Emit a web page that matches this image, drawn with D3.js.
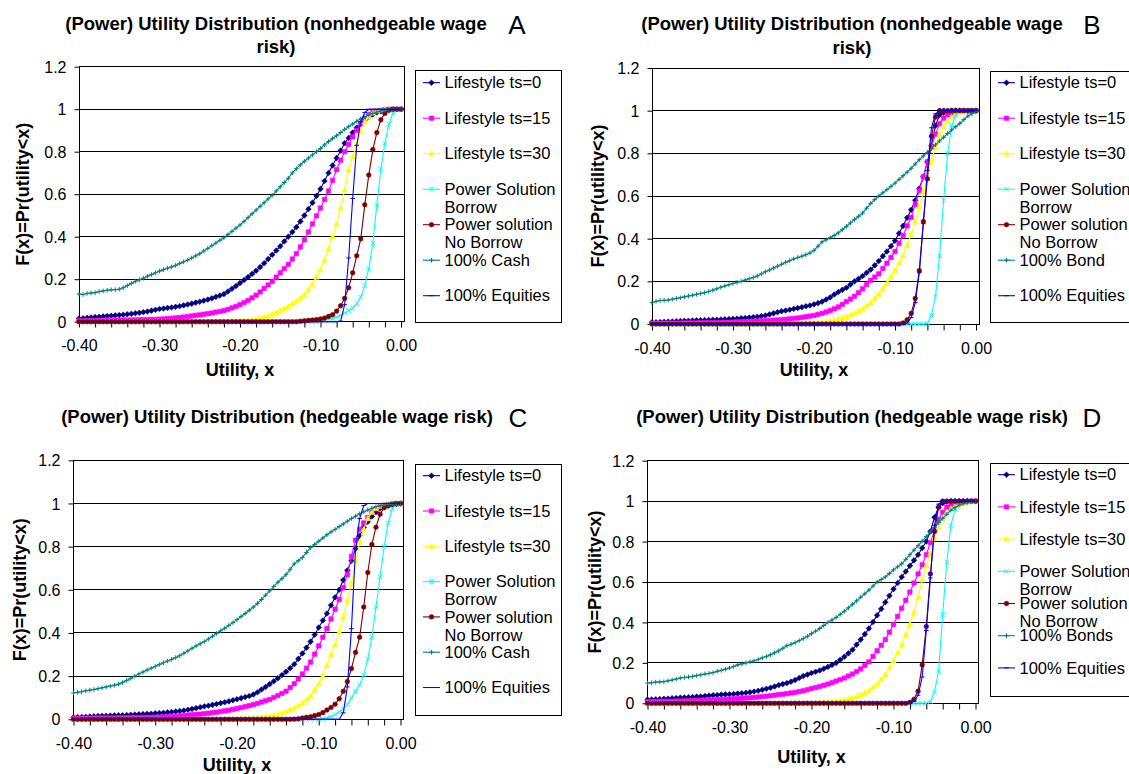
<!DOCTYPE html>
<html>
<head>
<meta charset="utf-8">
<script src="https://d3js.org/d3.v7.min.js"></script>
<style>
    body { margin: 0; background: #fff; }
    svg text { font-family: "Liberation Sans", Arial, sans-serif; fill: #000; }
</style>
</head>
<body>
<svg id="chart" width="1129" height="774"></svg>
<script>

// utility grid (x categories) shared by every series
var utilityX = [
    -0.400,-0.395,-0.390,-0.385,-0.380,-0.375,-0.370,-0.365,-0.360,-0.355,
    -0.350,-0.345,-0.340,-0.335,-0.330,-0.325,-0.320,-0.315,-0.310,-0.305,
    -0.300,-0.295,-0.290,-0.285,-0.280,-0.275,-0.270,-0.265,-0.260,-0.255,
    -0.250,-0.245,-0.240,-0.235,-0.230,-0.225,-0.220,-0.215,-0.210,-0.205,
    -0.200,-0.195,-0.190,-0.185,-0.180,-0.175,-0.170,-0.165,-0.160,-0.155,
    -0.150,-0.145,-0.140,-0.135,-0.130,-0.125,-0.120,-0.115,-0.110,-0.105,
    -0.100,-0.095,-0.090,-0.085,-0.080,-0.075,-0.070,-0.065,-0.060,-0.055,
    -0.050,-0.045,-0.040,-0.035,-0.030,-0.025,-0.020,-0.015,-0.010,-0.005,
    0.000
];

var xTickLabels = ["-0.40", "-0.30", "-0.20", "-0.10", "0.00"];
var yTicks      = [0, 0.2, 0.4, 0.6, 0.8, 1, 1.2];
var yTickLabels = ["0", "0.2", "0.4", "0.6", "0.8", "1", "1.2"];

var titleNonhedge = ["(Power) Utility Distribution (nonhedgeable wage", "risk)"];
var titleHedge    = ["(Power) Utility Distribution (hedgeable wage risk)"];

var legendBase = [["Lifestyle ts=0"], ["Lifestyle ts=15"], ["Lifestyle ts=30"],
                  ["Power Solution", "Borrow"], ["Power solution", "No Borrow"]];

// ---- panel A : nonhedgeable, cash
var aTs0 = [
    .015,.016,.018,.020,.022,.023,.025,.027,.028,.030,
    .031,.033,.035,.037,.040,.042,.045,.048,.052,.056,
    .060,.062,.065,.067,.070,.073,.077,.081,.085,.090,
    .094,.099,.104,.110,.117,.123,.130,.142,.155,.168,
    .182,.196,.210,.225,.240,.257,.275,.295,.315,.335,
    .355,.378,.400,.422,.445,.472,.500,.530,.560,.592,
    .625,.662,.700,.735,.770,.805,.840,.865,.890,.913,
    .935,.950,.965,.975,.985,.990,.995,.998,1,1,
    1];
var aTs15 = [
    .004,.004,.005,.005,.005,.006,.006,.006,.007,.007,
    .007,.008,.008,.008,.009,.009,.010,.010,.011,.011,
    .012,.013,.015,.016,.018,.020,.022,.024,.027,.030,
    .032,.035,.038,.041,.045,.048,.052,.058,.065,.072,
    .080,.090,.100,.112,.125,.140,.157,.173,.190,.210,
    .230,.250,.270,.295,.320,.352,.385,.422,.460,.498,
    .535,.575,.615,.665,.715,.760,.800,.835,.870,.900,
    .930,.955,.975,.985,.992,.995,.998,1,1,1,
    1];
var aTs30 = [
    0,0,0,0,0,0,0,0,0,0,
    0,0,0,0,0,0,0,0,0,0,
    0,0,0,0,0,0,0,0,0,0,
    0,0,0,0,0,0,.001,.001,.002,.002,
    .003,.005,.007,.010,.013,.017,.022,.028,.035,.043,
    .052,.062,.072,.084,.097,.111,.125,.150,.175,.210,
    .245,.290,.345,.400,.460,.535,.620,.715,.775,.835,
    .895,.940,.965,.982,.993,.997,1,1,1,1,
    1];
var aBorrow = [
    0,0,0,0,0,0,0,0,0,0,
    0,0,0,0,0,0,0,0,0,0,
    0,0,0,0,0,0,0,0,0,0,
    0,0,0,0,0,0,0,0,0,0,
    0,0,0,0,0,0,0,0,0,0,
    0,0,0,0,0,0,0,0,0,0,
    .004,.008,.012,.016,.022,.030,.040,.052,.065,.085,
    .115,.170,.250,.370,.550,.720,.840,.930,.980,.996,
    1];
var aNoBorrow = [
    0,0,0,0,0,0,0,0,0,0,
    0,0,0,0,0,0,0,0,0,0,
    0,0,0,0,0,0,0,0,0,0,
    0,0,0,0,0,0,0,0,0,0,
    0,0,0,0,0,0,0,0,0,0,
    0,0,0,0,0,.002,.004,.006,.008,.010,
    .013,.017,.025,.033,.050,.075,.110,.160,.230,.310,
    .390,.550,.690,.810,.890,.950,.980,.995,1,1,
    1];
var aCash = [
    .130,.128,.133,.135,.137,.142,.145,.148,.150,.151,
    .153,.160,.170,.180,.190,.197,.205,.214,.222,.230,
    .238,.245,.252,.258,.265,.274,.282,.290,.300,.310,
    .320,.333,.345,.358,.370,.383,.395,.410,.425,.440,
    .455,.472,.490,.508,.525,.543,.560,.578,.595,.615,
    .635,.655,.675,.700,.720,.738,.755,.770,.785,.800,
    .815,.832,.848,.862,.875,.890,.905,.918,.930,.943,
    .955,.965,.973,.980,.987,.992,.996,.998,1,1,
    1];
var aEquities = [
    0,0,0,0,0,0,0,0,0,0,
    0,0,0,0,0,0,0,0,0,0,
    0,0,0,0,0,0,0,0,0,0,
    0,0,0,0,0,0,0,0,0,0,
    0,0,0,0,0,0,0,0,0,0,
    0,0,0,0,0,0,0,0,0,0,
    0,0,0,0,0,.003,.080,.300,.580,.830,
    .940,.985,1,1,1,1,1,1,1,1,
    1];

// ---- panel B : nonhedgeable, bond
var bTs0 = [
    .008,.008,.009,.010,.011,.012,.013,.014,.015,.015,
    .016,.017,.018,.018,.019,.020,.020,.021,.022,.023,
    .024,.025,.027,.028,.030,.032,.034,.037,.040,.045,
    .050,.055,.060,.063,.067,.071,.075,.079,.083,.087,
    .092,.098,.105,.115,.125,.138,.150,.160,.170,.185,
    .200,.212,.225,.240,.255,.275,.295,.318,.340,.365,
    .390,.425,.460,.498,.535,.580,.635,.690,.760,.835,
    .930,.980,.990,.995,1,1,1,1,1,1,
    1];
var bTs15 = [
    .003,.003,.003,.004,.004,.004,.004,.004,.005,.005,
    .005,.005,.006,.006,.006,.007,.007,.007,.008,.008,
    .009,.010,.010,.011,.012,.013,.014,.015,.016,.017,
    .018,.019,.020,.022,.024,.026,.028,.031,.034,.037,
    .040,.045,.050,.056,.063,.071,.080,.092,.105,.117,
    .130,.147,.165,.185,.205,.220,.235,.260,.285,.312,
    .340,.378,.415,.460,.500,.560,.625,.690,.760,.830,
    .890,.940,.965,.980,.990,.994,.997,.999,1,1,
    1];
var bTs30 = [
    0,0,0,0,0,0,0,0,0,0,
    0,0,0,0,0,0,0,0,0,0,
    0,0,0,0,0,0,0,0,0,0,
    .001,.001,.002,.002,.003,.003,.003,.004,.004,.004,
    .004,.006,.008,.010,.013,.017,.022,.027,.033,.041,
    .050,.060,.070,.085,.100,.120,.140,.165,.190,.220,
    .250,.285,.320,.370,.420,.480,.550,.620,.690,.765,
    .830,.890,.925,.950,.970,.985,.993,.997,1,1,
    1];
var bBorrow = [
    0,0,0,0,0,0,0,0,0,0,
    0,0,0,0,0,0,0,0,0,0,
    0,0,0,0,0,0,0,0,0,0,
    0,0,0,0,0,0,0,0,0,0,
    0,0,0,0,0,0,0,0,0,0,
    0,0,0,0,0,0,0,0,0,0,
    0,0,0,0,0,0,0,0,.004,.040,
    .130,.320,.580,.800,.930,.980,.995,1,1,1,
    1];
var bNoBorrow = [
    0,0,0,0,0,0,0,0,0,0,
    0,0,0,0,0,0,0,0,0,0,
    0,0,0,0,0,0,0,0,0,0,
    0,0,0,0,0,0,0,0,0,0,
    0,0,0,0,0,0,0,0,0,0,
    0,0,0,0,0,0,0,0,0,0,
    0,0,.005,.020,.050,.120,.250,.480,.680,.880,
    .970,1,1,1,1,1,1,1,1,1,
    1];
var bBond = [
    .100,.106,.110,.111,.112,.116,.120,.123,.127,.131,
    .135,.139,.143,.147,.152,.158,.165,.172,.178,.184,
    .190,.195,.200,.206,.212,.218,.225,.235,.245,.253,
    .262,.271,.280,.289,.297,.305,.312,.318,.325,.333,
    .345,.365,.385,.395,.405,.415,.427,.442,.458,.474,
    .490,.505,.520,.543,.565,.583,.600,.615,.630,.645,
    .660,.678,.695,.712,.730,.750,.770,.788,.805,.822,
    .840,.858,.875,.893,.910,.925,.940,.958,.975,.986,
    .995];
var bEquities = [
    0,0,0,0,0,0,0,0,0,0,
    0,0,0,0,0,0,0,0,0,0,
    0,0,0,0,0,0,0,0,0,0,
    0,0,0,0,0,0,0,0,0,0,
    0,0,0,0,0,0,0,0,0,0,
    0,0,0,0,0,0,0,0,0,0,
    0,0,0,.005,.030,.100,.240,.470,.720,.920,
    .985,1,1,1,1,1,1,1,1,1,
    1];

// ---- panel C : hedgeable, cash
var cTs0 = [
    .009,.010,.011,.012,.013,.014,.015,.016,.016,.017,
    .018,.019,.019,.020,.021,.022,.023,.024,.025,.026,
    .028,.029,.030,.032,.034,.036,.038,.041,.044,.048,
    .052,.056,.060,.063,.067,.071,.075,.079,.083,.088,
    .093,.098,.103,.108,.115,.125,.138,.150,.163,.176,
    .190,.205,.220,.237,.255,.280,.305,.332,.360,.392,
    .425,.458,.490,.528,.565,.600,.645,.690,.735,.790,
    .850,.890,.915,.940,.960,.977,.985,.990,.995,.998,
    1];
var cTs15 = [
    .005,.005,.005,.005,.005,.006,.006,.006,.006,.006,
    .006,.007,.007,.007,.008,.008,.008,.009,.009,.009,
    .009,.010,.011,.012,.013,.014,.015,.017,.019,.021,
    .023,.024,.026,.028,.031,.033,.036,.039,.042,.046,
    .050,.054,.059,.063,.068,.074,.080,.086,.092,.101,
    .110,.120,.130,.147,.165,.187,.210,.237,.265,.302,
    .340,.380,.420,.465,.510,.555,.610,.670,.755,.830,
    .880,.910,.935,.960,.975,.985,.992,.995,.998,.999,
    1];
var cTs30 = [
    0,0,0,0,0,0,0,0,0,0,
    0,0,0,0,0,0,0,0,0,0,
    0,0,0,0,0,0,0,0,0,0,
    0,0,0,0,0,0,.001,.001,.002,.002,
    .003,.004,.005,.006,.008,.009,.011,.013,.015,.019,
    .023,.029,.035,.043,.052,.063,.075,.090,.107,.135,
    .165,.200,.250,.300,.345,.405,.475,.550,.630,.730,
    .820,.880,.930,.960,.978,.988,.993,.997,1,1,
    1];
var cBorrow = [
    0,0,0,0,0,0,0,0,0,0,
    0,0,0,0,0,0,0,0,0,0,
    0,0,0,0,0,0,0,0,0,0,
    0,0,0,0,0,0,0,0,0,0,
    0,0,0,0,0,0,0,0,0,0,
    0,0,0,0,0,0,0,0,0,0,
    0,.003,.006,.012,.022,.033,.048,.068,.098,.130,
    .160,.205,.280,.380,.520,.660,.800,.910,.975,.995,
    1];
var cNoBorrow = [
    0,0,0,0,0,0,0,0,0,0,
    0,0,0,0,0,0,0,0,0,0,
    0,0,0,0,0,0,0,0,0,0,
    0,0,0,0,0,0,0,0,0,0,
    0,0,0,0,0,0,0,0,0,0,
    0,0,0,0,.001,.002,.006,.009,.012,.017,
    .022,.031,.043,.055,.070,.095,.130,.175,.235,.310,
    .380,.520,.680,.810,.890,.950,.980,.990,.996,1,
    1];
var cCash = [
    .122,.125,.128,.132,.135,.138,.142,.146,.150,.154,
    .158,.163,.170,.180,.190,.200,.210,.219,.228,.237,
    .245,.254,.262,.270,.278,.286,.295,.306,.317,.329,
    .340,.350,.360,.372,.385,.398,.410,.422,.435,.448,
    .462,.476,.490,.505,.520,.537,.555,.575,.595,.615,
    .635,.652,.670,.695,.720,.735,.750,.773,.795,.810,
    .825,.840,.855,.868,.880,.893,.905,.918,.930,.941,
    .952,.961,.970,.978,.985,.989,.993,.996,.998,.999,
    1];
var cEquities = [
    0,0,0,0,0,0,0,0,0,0,
    0,0,0,0,0,0,0,0,0,0,
    0,0,0,0,0,0,0,0,0,0,
    0,0,0,0,0,0,0,0,0,0,
    0,0,0,0,0,0,0,0,0,0,
    0,0,0,0,0,0,0,0,0,0,
    0,0,0,0,0,0,.030,.150,.420,.790,
    .930,.990,1,1,1,1,1,1,1,1,
    1];

// ---- panel D : hedgeable, bonds
var dTs0 = [
    .018,.019,.020,.021,.022,.023,.025,.026,.028,.029,
    .030,.031,.033,.034,.036,.038,.040,.041,.043,.044,
    .045,.046,.048,.050,.052,.055,.058,.062,.067,.072,
    .077,.083,.090,.095,.100,.107,.115,.125,.135,.142,
    .150,.156,.162,.171,.180,.190,.200,.215,.230,.247,
    .265,.290,.315,.342,.370,.402,.435,.467,.500,.532,
    .565,.595,.625,.652,.680,.707,.735,.768,.800,.850,
    .920,.970,.990,.997,1,1,1,1,1,1,
    1];
var dTs15 = [
    .008,.009,.009,.010,.010,.010,.010,.011,.011,.012,
    .012,.013,.014,.015,.015,.016,.017,.018,.019,.020,
    .021,.022,.023,.025,.026,.027,.029,.031,.033,.035,
    .037,.040,.043,.045,.048,.051,.054,.058,.062,.067,
    .073,.078,.083,.089,.095,.102,.110,.117,.125,.135,
    .145,.157,.170,.187,.205,.232,.260,.287,.315,.352,
    .390,.430,.470,.510,.550,.595,.640,.685,.735,.795,
    .855,.910,.945,.970,.980,.985,.990,.994,.997,.999,
    1];
var dTs30 = [
    0,0,0,0,0,0,0,0,0,0,
    0,0,0,0,0,0,0,0,0,0,
    0,0,0,0,0,0,0,0,0,0,
    0,0,0,0,.001,.001,.001,.002,.002,.002,
    .003,.004,.005,.006,.007,.009,.011,.014,.017,.022,
    .027,.034,.041,.051,.062,.078,.095,.117,.140,.175,
    .210,.250,.290,.340,.390,.450,.525,.610,.680,.740,
    .815,.870,.910,.945,.962,.975,.985,.990,.995,.998,
    1];
var dBorrow = [
    0,0,0,0,0,0,0,0,0,0,
    0,0,0,0,0,0,0,0,0,0,
    0,0,0,0,0,0,0,0,0,0,
    0,0,0,0,0,0,0,0,0,0,
    0,0,0,0,0,0,0,0,0,0,
    0,0,0,0,0,0,0,0,0,0,
    0,0,0,0,0,0,0,0,0,.008,
    .055,.160,.440,.700,.880,.960,.985,.995,1,1,
    1];
var dNoBorrow = [
    0,0,0,0,0,0,0,0,0,0,
    0,0,0,0,0,0,0,0,0,0,
    0,0,0,0,0,0,0,0,0,0,
    0,0,0,0,0,0,0,0,0,0,
    0,0,0,0,0,0,0,0,0,0,
    0,0,0,0,0,0,0,0,0,0,
    0,0,0,0,.005,.020,.060,.190,.380,.640,
    .850,.970,1,1,1,1,1,1,1,1,
    1];
var dBonds = [
    .100,.102,.105,.106,.107,.111,.115,.120,.125,.128,
    .130,.133,.137,.141,.145,.148,.152,.158,.163,.169,
    .175,.182,.190,.195,.200,.205,.210,.217,.225,.232,
    .240,.250,.260,.272,.285,.292,.300,.310,.320,.332,
    .345,.357,.370,.385,.400,.412,.425,.440,.455,.472,
    .490,.507,.525,.542,.560,.580,.600,.612,.625,.642,
    .660,.675,.690,.712,.735,.758,.780,.802,.825,.848,
    .870,.893,.915,.935,.955,.968,.980,.987,.993,.996,
    .998];
var dEquities = [
    0,0,0,0,0,0,0,0,0,0,
    0,0,0,0,0,0,0,0,0,0,
    0,0,0,0,0,0,0,0,0,0,
    0,0,0,0,0,0,0,0,0,0,
    0,0,0,0,0,0,0,0,0,0,
    0,0,0,0,0,0,0,0,0,0,
    0,0,0,0,0,.010,.040,.130,.360,.620,
    .880,.985,1,1,1,1,1,1,1,1,
    1];


// series look, in legend order
var seriesStyle = [
    { color: "#000080", marker: "diamond",  fill: true  },
    { color: "#ff00ff", marker: "square",   fill: true  },
    { color: "#ffff00", marker: "triangle", fill: true  },
    { color: "#00ffff", marker: "cross",    fill: false },
    { color: "#800000", marker: "circle",   fill: true  },
    { color: "#008080", marker: "plus",     fill: false },
    { color: "#0000ff", marker: "dash",     fill: false }
];

var markerPath = {
    diamond  : "M0,-2.8L2.8,0L0,2.8L-2.8,0Z",
    square   : "M-2.2,-2.2H2.2V2.2H-2.2Z",
    triangle : "M0,-2.9L2.7,2.1H-2.7Z",
    cross    : "M-2.3,-2.3L2.3,2.3M-2.3,2.3L2.3,-2.3",
    circle   : "M2.3,0A2.3,2.3 0 1,1 -2.3,0A2.3,2.3 0 1,1 2.3,0Z",
    plus     : "M-2.3,0H2.3M0,-2.3V2.3",
    dash     : "M-2.3,0H2.3"
};

var panels = [
    {
        letter: "A", letterX: 517, title: titleNonhedge, titleX: 276, titleY: 23.5,
        legend: legendBase.concat([["100% Cash"], ["100% Equities"]]),
        series: [aTs0, aTs15, aTs30, aBorrow, aNoBorrow, aCash, aEquities],
        plot: { left: 79, right: 401, top: 66.7, bottom: 321.7 },
        yTitleX: 23, xTitleY: 369.5,
        box: { x: 415, y: 70.7, w: 146, h: 251.6 }, legendY: 82.7, legendStep: 35.5
    },
    {
        letter: "B", letterX: 1092, title: titleNonhedge, titleX: 852, titleY: 24,
        legend: legendBase.concat([["100% Bond"], ["100% Equities"]]),
        series: [bTs0, bTs15, bTs30, bBorrow, bNoBorrow, bBond, bEquities],
        plot: { left: 652, right: 976, top: 68, bottom: 324 },
        yTitleX: 598, xTitleY: 370,
        box: { x: 990, y: 71, w: 200, h: 250.7 }, legendY: 82.7, legendStep: 35.5
    },
    {
        letter: "C", letterX: 518, title: titleHedge, titleX: 277, titleY: 416.7,
        legend: legendBase.concat([["100% Cash"], ["100% Equities"]]),
        series: [cTs0, cTs15, cTs30, cBorrow, cNoBorrow, cCash, cEquities],
        plot: { left: 73.5, right: 400.5, top: 460.3, bottom: 719.3 },
        yTitleX: 20, xTitleY: 765,
        box: { x: 415, y: 464, w: 146, h: 251 }, legendY: 475.7, legendStep: 35.3
    },
    {
        letter: "D", letterX: 1092, title: titleHedge, titleX: 852, titleY: 416.7,
        legend: legendBase.concat([["100% Bonds"], ["100% Equities"]]),
        series: [dTs0, dTs15, dTs30, dBorrow, dNoBorrow, dBonds, dEquities],
        plot: { left: 647.5, right: 975.5, top: 460.7, bottom: 703.3 },
        yTitleX: 594.5, xTitleY: 757,
        box: { x: 990, y: 463, w: 200, h: 232.7 }, legendY: 474.7, legendStep: 32.2
    }
];

var svg = d3.select("#chart");

function crisp(v) { return Math.round(v - 0.5) + 0.5; }

function drawMarker(sel, style) {
    return sel.append("path")
        .attr("d", markerPath[style.marker])
        .attr("fill", style.fill ? style.color : "none")
        .attr("stroke", style.color)
        .attr("stroke-width", style.fill ? 0.6 : 1);
}

function drawPanel(p) {

    var g = svg.append("g"),
        frameRight = p.plot.right + 3;

    var x = d3.scaleLinear().domain([-0.40, 0]).range([p.plot.left, p.plot.right]);
    var y = d3.scaleLinear().domain([0, 1.2]).range([p.plot.bottom, p.plot.top]);

    p.series.forEach(function (values, k) {
        if (values.length !== utilityX.length) throw new Error(p.letter + " series " + k + " has " + values.length);
    });

    // gridlines and plot frame
    g.append("g")
        .selectAll("line")
        .data(yTicks.slice(1, -1))
        .enter()
        .append("line")
        .attr("x1", p.plot.left).attr("x2", frameRight)
        .attr("y1", function (d) { return crisp(y(d)); })
        .attr("y2", function (d) { return crisp(y(d)); })
        .attr("stroke", "#000")
        .attr("stroke-width", 1);

    g.append("rect")
        .attr("x", crisp(p.plot.left)).attr("y", crisp(y(1.2)))
        .attr("width", Math.round(frameRight - p.plot.left))
        .attr("height", Math.round(y(0) - y(1.2)))
        .attr("fill", "none")
        .attr("stroke", "#000");

    // axes
    var yAxis = d3.axisLeft(y)
        .tickValues(yTicks)
        .tickSize(5)
        .tickSizeOuter(0)
        .tickFormat(function (d, i) { return yTickLabels[i]; });

    var ya = g.append("g")
        .attr("transform", "translate(" + crisp(p.plot.left) + ",0)")
        .call(yAxis);
    ya.select(".domain").remove();
    ya.selectAll("line").attr("stroke", "#000");
    ya.selectAll("text")
        .attr("x", -13).attr("dy", "0.35em")
        .attr("font-size", 16)
        .attr("font-family", "Liberation Sans, Arial, sans-serif");

    var xTicks = utilityX.filter(function (d, i) { return i % 4 === 0; });

    var xAxis = d3.axisBottom(x)
        .tickValues(xTicks)
        .tickSize(6)
        .tickSizeOuter(0)
        .tickFormat(function (d, i) { return i % 5 === 0 ? xTickLabels[i / 5] : ""; });

    var xa = g.append("g")
        .attr("transform", "translate(0," + crisp(p.plot.bottom) + ")")
        .call(xAxis);
    xa.select(".domain").remove();
    xa.selectAll("line").attr("stroke", "#000");
    xa.selectAll("text")
        .attr("y", 23.5).attr("dy", "0.35em")
        .attr("font-size", 16)
        .attr("font-family", "Liberation Sans, Arial, sans-serif");

    // series, first one at the bottom
    p.series.forEach(function (values, k) {

        var style = seriesStyle[k];
        var pts = utilityX.map(function (u, i) { return [x(u), y(values[i])]; });

        g.append("path")
            .attr("d", d3.line()(pts))
            .attr("fill", "none")
            .attr("stroke", style.color)
            .attr("stroke-width", 1.1);

        var m = g.append("g")
            .selectAll("g")
            .data(pts)
            .enter()
            .append("g")
            .attr("transform", function (d) { return "translate(" + d[0] + "," + d[1] + ")"; });

        drawMarker(m, style);
    });

    // titles
    var t = g.append("text")
        .attr("x", p.titleX)
        .attr("text-anchor", "middle")
        .attr("font-size", 18.5)
        .attr("font-weight", "bold");

    p.title.forEach(function (line, i) {
        t.append("tspan")
            .attr("x", p.titleX)
            .attr("y", p.titleY + i * 23.4)
            .attr("dy", "0.35em")
            .text(line);
    });

    g.append("text")
        .attr("x", p.letterX).attr("y", p.titleY + 1)
        .attr("dy", "0.36em")
        .attr("text-anchor", "middle")
        .attr("font-size", 26)
        .text(p.letter);

    g.append("text")
        .attr("x", (p.plot.left + p.plot.right) / 2)
        .attr("y", p.xTitleY)
        .attr("dy", "0.35em")
        .attr("text-anchor", "middle")
        .attr("font-size", 18)
        .attr("font-weight", "bold")
        .text("Utility, x");

    var cy = (p.plot.top + p.plot.bottom) / 2;

    g.append("text")
        .attr("transform", "translate(" + p.yTitleX + "," + cy + ") rotate(-90)")
        .attr("dy", "0.35em")
        .attr("text-anchor", "middle")
        .attr("font-size", 18)
        .attr("font-weight", "bold")
        .text("F(x)=Pr(utility<x)");

    // legend
    var lg = g.append("g");

    lg.append("rect")
        .attr("x", crisp(p.box.x)).attr("y", crisp(p.box.y))
        .attr("width", p.box.w).attr("height", Math.round(p.box.h))
        .attr("fill", "#fff")
        .attr("stroke", "#000");

    p.legend.forEach(function (lines, k) {

        var style = seriesStyle[k],
            ly = p.legendY + k * p.legendStep;

        lg.append("line")
            .attr("x1", p.box.x + 8).attr("x2", p.box.x + 25)
            .attr("y1", ly).attr("y2", ly)
            .attr("stroke", style.color)
            .attr("stroke-width", 1.1);

        drawMarker(lg.append("g").attr("transform", "translate(" + (p.box.x + 16.5) + "," + ly + ")"), style);

        var txt = lg.append("text")
            .attr("font-size", 16.5);

        lines.forEach(function (s, i) {
            txt.append("tspan")
                .attr("x", p.box.x + 29.5)
                .attr("y", ly + i * 18)
                .attr("dy", "0.35em")
                .text(s);
        });
    });
}

panels.forEach(drawPanel);

</script>
</body>
</html>
